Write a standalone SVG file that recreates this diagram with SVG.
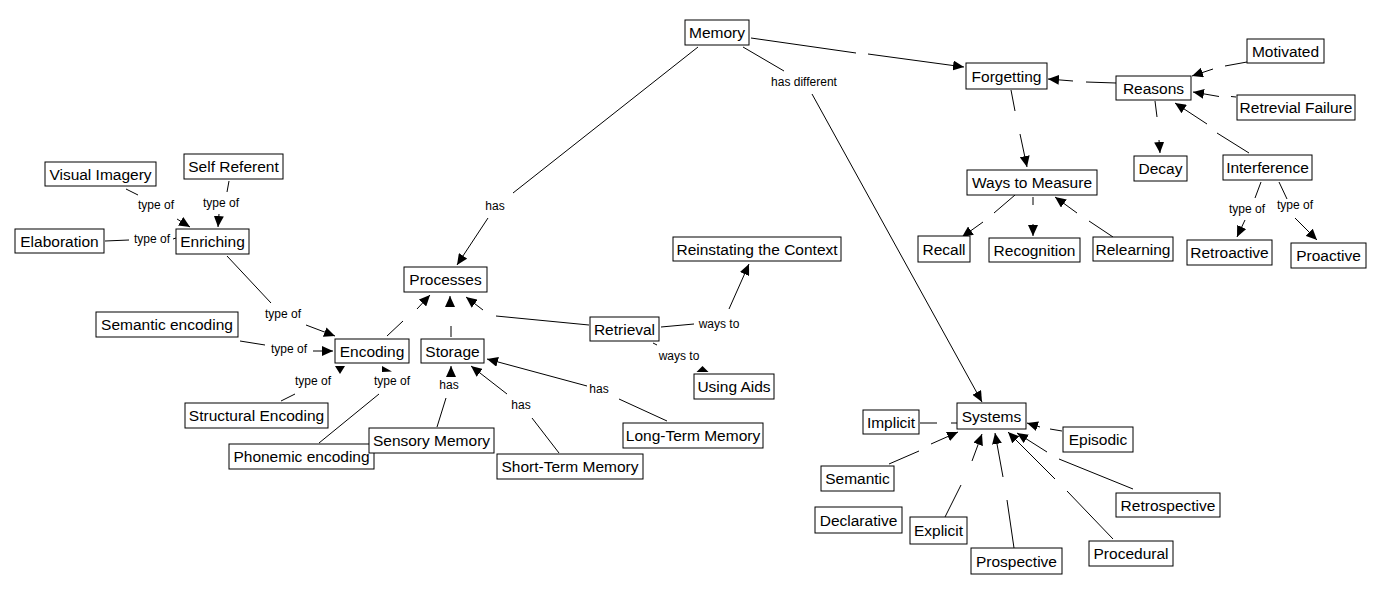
<svg xmlns="http://www.w3.org/2000/svg" width="1381" height="594" viewBox="0 0 1381 594">
<style>
.n rect{fill:#fff;stroke:#000;stroke-width:1}
.n text{font-family:"Liberation Sans",Arial,sans-serif;font-size:15.5px;fill:#000;text-anchor:middle}
#connectors line{stroke:#000;stroke-width:1;fill:none}
#connectors line.a{marker-end:url(#ah)}
#connectors polygon{fill:#000}
#connectors text{font-family:"Liberation Sans",Arial,sans-serif;font-size:12px;fill:#000;text-anchor:middle}
</style>
<defs>
<marker id="ah" viewBox="0 0 11 10" refX="11" refY="5" markerWidth="11" markerHeight="10" markerUnits="userSpaceOnUse" orient="auto"><path d="M0,0L11,5L0,10z" fill="#000"/></marker>
</defs>
<rect width="1381" height="594" fill="#fff"/>
<g id="connectors">
<line x1="698" y1="47" x2="513" y2="193"/><line class="a" x1="488" y1="218" x2="457" y2="265"/><text x="495" y="210">has</text>
<line x1="743" y1="47" x2="784" y2="71"/><line class="a" x1="812" y1="94" x2="982" y2="402"/><text x="804" y="86">has different</text>
<line x1="751" y1="38" x2="856" y2="53"/><line class="a" x1="868" y1="54" x2="964" y2="67"/>
<line x1="1116" y1="83" x2="1086" y2="82"/><line class="a" x1="1073" y1="81" x2="1048" y2="79"/>
<line x1="1247" y1="62" x2="1225" y2="66"/><line class="a" x1="1213" y1="69" x2="1192" y2="76"/>
<line x1="1236" y1="97" x2="1231" y2="96.5"/><line class="a" x1="1219" y1="96.5" x2="1193" y2="92"/>
<line x1="1155" y1="101" x2="1157" y2="117"/><line class="a" x1="1159" y1="140" x2="1160" y2="153"/>
<line x1="1249" y1="153" x2="1217" y2="133"/><line class="a" x1="1207" y1="124" x2="1175" y2="103"/>
<line x1="1011" y1="90" x2="1015" y2="111"/><line class="a" x1="1020" y1="134" x2="1027" y2="167"/>
<line x1="1015" y1="195" x2="994" y2="213"/><line class="a" x1="983" y1="222" x2="962" y2="237"/>
<line x1="1033" y1="197" x2="1033" y2="205"/><line class="a" x1="1033" y1="224" x2="1033" y2="236"/>
<line x1="1113" y1="237" x2="1089" y2="221"/><line class="a" x1="1077" y1="213" x2="1055" y2="197"/>
<line x1="1261" y1="182" x2="1255" y2="198"/><text x="1247" y="213">type of</text><line class="a" x1="1245" y1="220" x2="1237" y2="237"/>
<line x1="1279" y1="182" x2="1287" y2="199"/><text x="1295" y="209">type of</text><line class="a" x1="1295" y1="218" x2="1317" y2="240"/>
<line x1="920" y1="423" x2="937" y2="423"/><line x1="951" y1="423" x2="957" y2="423"/>
<line x1="889" y1="464" x2="919" y2="451"/><line class="a" x1="931" y1="444" x2="958" y2="432"/>
<line x1="945" y1="517" x2="961" y2="485"/><line class="a" x1="972" y1="461" x2="982" y2="434"/>
<line x1="1014" y1="548" x2="1007" y2="500"/><line class="a" x1="1003" y1="477" x2="995" y2="433"/>
<line x1="1113" y1="539" x2="1067" y2="491"/><line class="a" x1="1055" y1="479" x2="1008" y2="432"/>
<line x1="1133" y1="489" x2="1059" y2="459"/><line class="a" x1="1047" y1="452" x2="1017" y2="433"/>
<line x1="1062" y1="431" x2="1050" y2="429"/><line class="a" x1="1040" y1="427" x2="1027" y2="423"/>
<line x1="126" y1="189" x2="138" y2="195"/><text x="156" y="209">type of</text><line class="a" x1="177" y1="219" x2="190" y2="227"/>
<line x1="229" y1="181" x2="227" y2="192"/><text x="221" y="207">type of</text><line class="a" x1="219" y1="214" x2="218" y2="227"/>
<line x1="105" y1="241" x2="129" y2="240"/><text x="152" y="243">type of</text><line x1="173" y1="239" x2="176" y2="238"/>
<line x1="227" y1="256" x2="271" y2="303"/><text x="283" y="318">type of</text><line class="a" x1="306" y1="325" x2="335" y2="336"/>
<line x1="240" y1="341" x2="265" y2="345"/><text x="289" y="353">type of</text><line class="a" x1="313" y1="351" x2="333" y2="351"/>
<text x="313" y="385">type of</text><line x1="281" y1="401" x2="295" y2="394"/><polygon points="335,366 345,366 340,374"/>
<line x1="319" y1="443" x2="379" y2="394"/><text x="392" y="385">type of</text><polygon points="382,366 392,371.5 382,372"/>
<line x1="387" y1="336" x2="403" y2="321"/><line class="a" x1="417" y1="309" x2="430" y2="295"/>
<line x1="451" y1="337" x2="451" y2="326"/><line class="a" x1="450" y1="306" x2="450" y2="296"/>
<line x1="589" y1="325" x2="496" y2="316"/><line class="a" x1="483" y1="310" x2="466" y2="297"/>
<line x1="437" y1="427" x2="446" y2="398"/><text x="449" y="389">has</text><line class="a" x1="451" y1="376" x2="451" y2="366"/>
<line x1="559" y1="453" x2="532" y2="418"/><text x="521" y="409">has</text><line class="a" x1="507" y1="394" x2="471" y2="366"/>
<line x1="667" y1="421" x2="619" y2="399"/><text x="599" y="393">has</text><line class="a" x1="587" y1="386" x2="487" y2="359"/>
<line x1="661" y1="327" x2="694" y2="324"/><text x="719" y="328">ways to</text><line class="a" x1="729" y1="309" x2="749" y2="264"/>
<line x1="653" y1="343" x2="657" y2="345"/><text x="679" y="360">ways to</text><polygon points="702.5,366 708.5,372 696.5,372"/>
</g>
<g id="n-memory" class="n"><rect x="685" y="20" width="64" height="25"/><text x="717" y="38">Memory</text></g>
<g id="n-forgetting" class="n"><rect x="966" y="63" width="81" height="26"/><text x="1006.5" y="81.5">Forgetting</text></g>
<g id="n-reasons" class="n"><rect x="1116" y="76" width="75" height="24"/><text x="1153.5" y="93.5">Reasons</text></g>
<g id="n-motivated" class="n"><rect x="1247" y="39" width="77" height="24"/><text x="1285.5" y="56.5">Motivated</text></g>
<g id="n-retfail" class="n"><rect x="1237" y="95" width="118" height="25"/><text x="1296" y="113">Retrevial Failure</text></g>
<g id="n-decay" class="n"><rect x="1134" y="156" width="53" height="25"/><text x="1160.5" y="174">Decay</text></g>
<g id="n-interference" class="n"><rect x="1223" y="155" width="89" height="25"/><text x="1267.5" y="173">Interference</text></g>
<g id="n-ways" class="n"><rect x="967" y="170" width="130" height="25"/><text x="1032" y="188">Ways to Measure</text></g>
<g id="n-recall" class="n"><rect x="918" y="236" width="52" height="26"/><text x="944" y="254.5">Recall</text></g>
<g id="n-recognition" class="n"><rect x="989" y="238" width="91" height="24"/><text x="1034.5" y="255.5">Recognition</text></g>
<g id="n-relearning" class="n"><rect x="1093" y="237" width="80" height="24"/><text x="1133" y="254.5">Relearning</text></g>
<g id="n-retroactive" class="n"><rect x="1187" y="240" width="85" height="25"/><text x="1229.5" y="258">Retroactive</text></g>
<g id="n-proactive" class="n"><rect x="1291" y="243" width="75" height="25"/><text x="1328.5" y="261">Proactive</text></g>
<g id="n-implicit" class="n"><rect x="863" y="410" width="56" height="24"/><text x="891" y="427.5">Implicit</text></g>
<g id="n-systems" class="n"><rect x="957" y="403" width="69" height="26"/><text x="991.5" y="421.5">Systems</text></g>
<g id="n-episodic" class="n"><rect x="1063" y="427" width="70" height="25"/><text x="1098" y="445">Episodic</text></g>
<g id="n-semantic" class="n"><rect x="821" y="466" width="73" height="25"/><text x="857.5" y="484">Semantic</text></g>
<g id="n-declarative" class="n"><rect x="815" y="507" width="87" height="26"/><text x="858.5" y="525.5">Declarative</text></g>
<g id="n-explicit" class="n"><rect x="910" y="517" width="57" height="27"/><text x="938.5" y="536">Explicit</text></g>
<g id="n-prospective" class="n"><rect x="971" y="548" width="91" height="26"/><text x="1016.5" y="566.5">Prospective</text></g>
<g id="n-procedural" class="n"><rect x="1089" y="541" width="84" height="25"/><text x="1131" y="559">Procedural</text></g>
<g id="n-retrospective" class="n"><rect x="1116" y="493" width="104" height="24"/><text x="1168" y="510.5">Retrospective</text></g>
<g id="n-visual" class="n"><rect x="45" y="162" width="111" height="24"/><text x="100.5" y="179.5">Visual Imagery</text></g>
<g id="n-self" class="n"><rect x="184" y="154" width="99" height="25"/><text x="233.5" y="172">Self Referent</text></g>
<g id="n-elaboration" class="n"><rect x="15" y="229" width="89" height="24"/><text x="59.5" y="246.5">Elaboration</text></g>
<g id="n-enriching" class="n"><rect x="176" y="229" width="73" height="25"/><text x="212.5" y="247">Enriching</text></g>
<g id="n-processes" class="n"><rect x="404" y="267" width="83" height="25"/><text x="445.5" y="285">Processes</text></g>
<g id="n-semenc" class="n"><rect x="96" y="312" width="142" height="25"/><text x="167" y="330">Semantic encoding</text></g>
<g id="n-encoding" class="n"><rect x="335" y="339" width="74" height="24"/><text x="372" y="356.5">Encoding</text></g>
<g id="n-storage" class="n"><rect x="421" y="339" width="63" height="24"/><text x="452.5" y="356.5">Storage</text></g>
<g id="n-structural" class="n"><rect x="185" y="403" width="143" height="25"/><text x="256.5" y="421">Structural Encoding</text></g>
<g id="n-phonemic" class="n"><rect x="229" y="444" width="145" height="25"/><text x="301.5" y="462">Phonemic encoding</text></g>
<g id="n-sensory" class="n"><rect x="369" y="428" width="125" height="25"/><text x="431.5" y="446">Sensory Memory</text></g>
<g id="n-stm" class="n"><rect x="497" y="454" width="146" height="25"/><text x="570" y="472">Short-Term Memory</text></g>
<g id="n-retrieval" class="n"><rect x="590" y="317" width="69" height="24"/><text x="624.5" y="334.5">Retrieval</text></g>
<g id="n-aids" class="n"><rect x="694" y="374" width="80" height="25"/><text x="734" y="392">Using Aids</text></g>
<g id="n-ltm" class="n"><rect x="623" y="423" width="140" height="25"/><text x="693" y="441">Long-Term Memory</text></g>
<g id="n-reinstating" class="n"><rect x="673" y="237" width="168" height="24"/><text x="757" y="254.5">Reinstating the Context</text></g>
</svg>
